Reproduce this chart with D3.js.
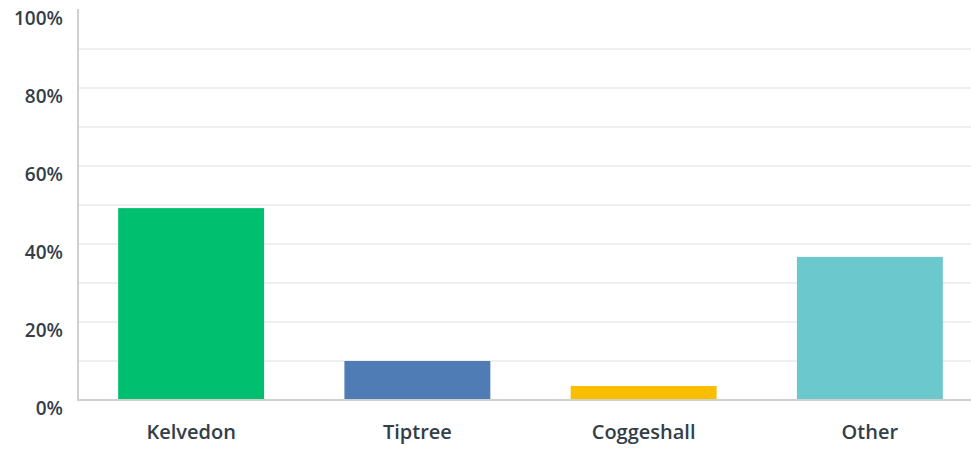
<!DOCTYPE html>
<html><head><meta charset="utf-8">
<script src="https://cdn.jsdelivr.net/npm/d3@7"></script>
<style>body{margin:0;background:#fff;}svg{display:block;font-family:"Open Sans","Noto Sans",sans-serif;}</style>
</head><body><svg id="c" width="971" height="449"></svg>
<script>
const categories = ["Kelvedon","Tiptree","Coggeshall","Other"];
const values = [49.2, 10.0, 3.6, 36.7];
const colors = ["#00bf6f","#507cb6","#f9be00","#6bc8cd"];
const tickValues = [0,20,40,60,80,100];
const gridValues = [10,20,30,40,50,60,70,80,90];

const svg = d3.select("#c");
const x = d3.scaleBand().domain(categories).range([78,983]).paddingInner(0.355).paddingOuter(0.1775);
const y = d3.scaleLinear().domain([0,100]).range([400,10]);

svg.append("g").selectAll("line").data(gridValues).join("line")
  .attr("x1",78).attr("x2",971).attr("y1",d=>y(d)).attr("y2",d=>y(d))
  .attr("stroke","#efefef").attr("stroke-width",2);

svg.append("g").selectAll("rect").data(values).join("rect")
  .attr("x",(d,i)=>x(categories[i])).attr("width",x.bandwidth())
  .attr("y",d=>y(d)).attr("height",d=>y(0)-y(d))
  .attr("fill",(d,i)=>colors[i]);

svg.append("line").attr("x1",78).attr("x2",971).attr("y1",y(0)).attr("y2",y(0))
  .attr("stroke","#d0d0d0").attr("stroke-width",2);
svg.append("line").attr("x1",78).attr("x2",78).attr("y1",y(100)-1).attr("y2",y(0)+1)
  .attr("stroke","#d0d0d0").attr("stroke-width",2);

svg.append("g").selectAll("text").data(tickValues).join("text")
  .attr("x",63).attr("y",d=>y(d)+8).attr("dy","0.35em").attr("text-anchor","end")
  .attr("font-size",19).attr("font-weight",600).attr("fill","#333e48")
  .text(d=>d+"%");

svg.append("g").selectAll("text").data(categories).join("text")
  .attr("x",d=>x(d)+x.bandwidth()/2).attr("y",432).attr("dy","0.35em").attr("text-anchor","middle")
  .attr("font-size",20).attr("font-weight",600).attr("fill","#333e48")
  .text(d=>d);
</script></body></html>
